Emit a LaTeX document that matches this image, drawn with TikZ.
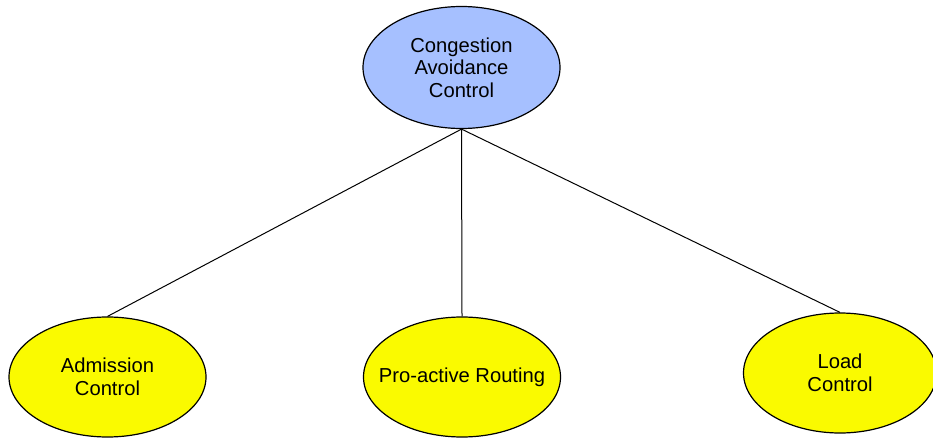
\documentclass[tikz,border=0pt]{standalone}
\usepackage{fontspec}
\setmainfont{Liberation Sans}
\usetikzlibrary{shapes.geometric}
\definecolor{rootblue}{RGB}{166,192,255}
\definecolor{leafyellow}{RGB}{250,250,0}
\begin{document}
\begin{tikzpicture}[x=1pt,y=-1pt,
  bubble/.style={ellipse,draw=black,line width=1.2pt,inner sep=0pt,
    minimum width=197pt,minimum height=122pt,align=center,
    font=\fontsize{20.2}{22.5}\selectfont},
  root/.style={bubble,fill=rootblue},
  leaf/.style={bubble,fill=leafyellow,minimum height=120pt},
  link/.style={line width=1pt}]
  % page frame
  \clip (0,0) rectangle (933,438);
  \fill[white] (0,0) rectangle (933,438);

  % hierarchy
  \node[root] (cac) at (461.5,67.5) {Congestion\\Avoidance\\Control};
  \node[leaf] (adm) at (107.5,377) {Admission\\Control};
  \node[leaf,inner xsep=-40pt] (pro) at (462,377) {Pro-active Routing};
  \node[leaf,minimum width=193pt] (load) at (840,373) {Load\\Control};

  % connectors
  \draw[link] (cac.south) -- (adm.north);
  \draw[link] (cac.south) -- (pro.north);
  \draw[link] (cac.south) -- (load.north);
\end{tikzpicture}
\end{document}
